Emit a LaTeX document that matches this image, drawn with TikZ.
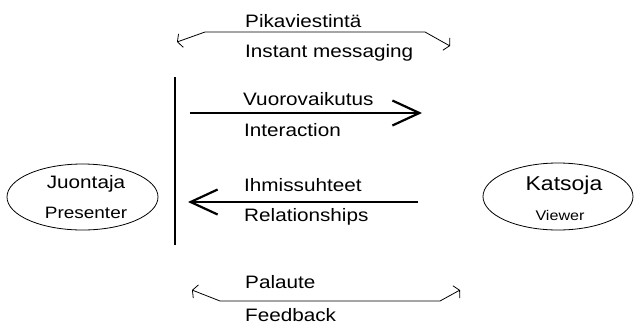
\documentclass[tikz,border=0pt]{standalone}
\usepackage{fontspec}
\setmainfont{Liberation Sans}[FakeStretch=1.15]
\usetikzlibrary{arrows.meta,shapes.geometric}
\begin{document}
\begin{tikzpicture}[x=1pt,y=-1pt,
  lbl/.style={anchor=base west,inner sep=0pt,font=\fontsize{18}{20}\selectfont},
  ctr/.style={anchor=base,inner sep=0pt},
  bigarrow/.style={line width=2.2pt,-{Straight Barb[length=27pt,width=25pt,line width=2.2pt]}},
  bracket/.style={line width=0.8pt,{Straight Barb[angle=125:8pt,line width=0.8pt]}-{Straight Barb[angle=125:8pt,line width=0.8pt]}},
  party/.style={draw,ellipse,line width=0.8pt,inner sep=0pt}]
\useasboundingbox (0,0) rectangle (634,325);

% parties
\node[party,minimum width=151pt,minimum height=66pt] (pres) at (82.5,197) {};
\node[ctr,font=\fontsize{18}{20}\selectfont] (presfi) at (86,188) {Juontaja};
\node[ctr,font=\fontsize{16.5}{18}\selectfont] (presen) at (86,218) {Presenter};

\node[party,minimum width=150pt,minimum height=67pt] (view) at (558,196.5) {};
\node[ctr,font=\fontsize{20}{22}\selectfont] (viewfi) at (564,190) {Katsoja};
\node[ctr,font=\fontsize{14}{16}\selectfont] (viewen) at (560,220) {Viewer};

% vertical bar
\coordinate (bart) at (175,77);
\coordinate (barb) at (175,245);
\draw[line width=2.2pt] (bart) -- (barb);

% top bracket
\coordinate (t1) at (177,42);
\coordinate (t2) at (205,32);
\coordinate (t3) at (425,32);
\coordinate (t4) at (450,46);
\draw[bracket] (t1) -- (t2) -- (t3) -- (t4);
\node[lbl] (pika) at (245,27) {Pikaviestintä};
\node[lbl] (inst) at (245,57) {Instant messaging};

% interaction arrow
\coordinate (ia) at (190,113);
\coordinate (ib) at (422,113);
\draw[bigarrow] (ia) -- (ib);
\node[lbl] (vuoro) at (243,105) {Vuorovaikutus};
\node[lbl] (inter) at (244,136.5) {Interaction};

% relationships arrow
\coordinate (ra) at (418,202);
\coordinate (rb) at (188,202);
\draw[bigarrow] (ra) -- (rb);
\node[lbl] (ihmis) at (244,191.5) {Ihmissuhteet};
\node[lbl] (relat) at (244,221.5) {Relationships};

% bottom bracket
\coordinate (b1) at (192,290);
\coordinate (b2) at (220,301);
\coordinate (b3) at (440,301);
\coordinate (b4) at (460,290);
\draw[bracket] (b1) -- (b2) -- (b3) -- (b4);
\node[lbl] (pala) at (245,288) {Palaute};
\node[lbl] (feed) at (245,321) {Feedback};
\end{tikzpicture}
\end{document}
